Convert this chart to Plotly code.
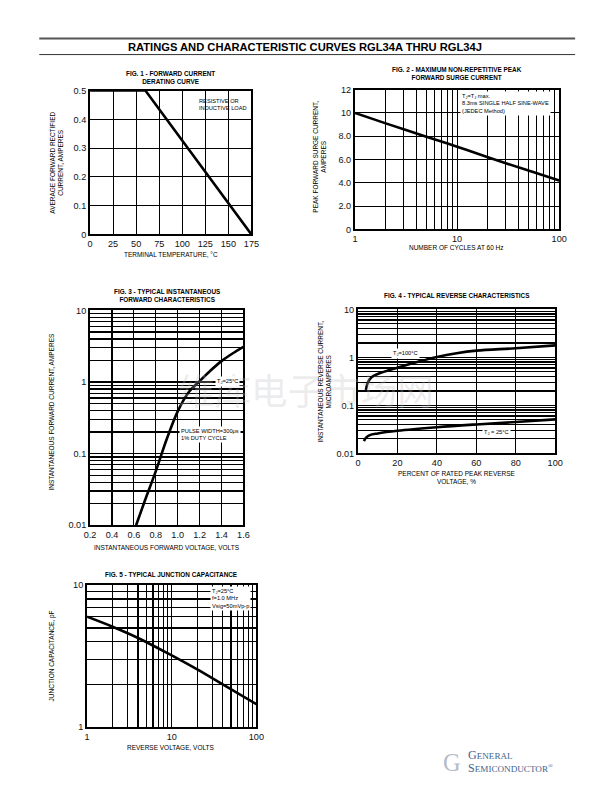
import plotly.graph_objects as go

# ---------------- data ----------------
fig1_temp = [0, 60, 175]
fig1_current = [0.5, 0.5, 0.0]

fig2_cycles = [1, 2, 5, 10, 20, 50, 100]
fig2_surge = [10.0, 9.1, 7.95, 7.1, 6.2, 5.05, 4.2]

fig3_volts = [0.62, 0.7, 0.8, 0.9, 1.0, 1.1, 1.2, 1.3, 1.4, 1.5, 1.6]
fig3_amps = [0.01, 0.022, 0.057, 0.16, 0.39, 0.72, 1.03, 1.45, 1.96, 2.5, 3.1]

fig4_pct100 = [4, 5, 7, 10, 20, 30, 40, 50, 60, 80, 100]
fig4_i100 = [0.21, 0.30, 0.39, 0.45, 0.61, 0.80, 1.02, 1.22, 1.38, 1.55, 1.78]
fig4_pct25 = [3, 4, 6, 10, 20, 40, 60, 80, 100]
fig4_i25 = [0.018, 0.021, 0.024, 0.026, 0.0295, 0.035, 0.040, 0.045, 0.051]

fig5_volts = [1, 2, 4, 10, 20, 40, 100]
fig5_cap = [6.0, 5.1, 4.25, 3.2, 2.55, 2.0, 1.45]

fig1_xticks = [0, 25, 50, 75, 100, 125, 150, 175]
fig1_yticks = [0, 0.1, 0.2, 0.3, 0.4, 0.5]
fig2_yticks = [0, 2, 4, 6, 8, 10, 12]
fig2_ylabels = ["0", "2.0", "4.0", "6.0", "8.0", "10", "12"]
fig3_xticks = [0.2, 0.4, 0.6, 0.8, 1.0, 1.2, 1.4, 1.6]
fig3_xlabels = ["0.2", "0.4", "0.6", "0.8", "1.0", "1.2", "1.4", "1.6"]
fig4_xticks = [0, 20, 40, 60, 80, 100]
log_digits = [2, 3, 4, 5, 6, 7, 8, 9]

W, H = 612, 792

# compensation for the slight rescale seen in the photographed page
AX, BX = 0.981, 4.6
AY, BY = 0.988, 3.4
FS = 1.0 / 0.985


def px(x):
    return ((x - BX) / AX) / W


def py(y):
    return 1 - ((y - BY) / AY) / H


def minor_vals(decades):
    return [d * k for d in decades for k in log_digits]


FONT = "Liberation Sans, Arial, sans-serif"
TICKFONT = dict(family=FONT, size=9 * FS, color="#111")
LINE = dict(color="black", width=2.6)
GRIDW = 1.2

fig = go.Figure()

fig.add_trace(go.Scatter(x=fig1_temp, y=fig1_current, mode="lines", line=LINE,
                         xaxis="x", yaxis="y", showlegend=False))
fig.add_trace(go.Scatter(x=fig2_cycles, y=fig2_surge, mode="lines",
                         line=dict(LINE, shape="spline"),
                         xaxis="x2", yaxis="y2", showlegend=False))
fig.add_trace(go.Scatter(x=fig3_volts, y=fig3_amps, mode="lines",
                         line=dict(LINE, shape="spline"),
                         xaxis="x3", yaxis="y3", showlegend=False))
fig.add_trace(go.Scatter(x=fig4_pct100, y=fig4_i100, mode="lines",
                         line=dict(LINE, shape="spline"),
                         xaxis="x4", yaxis="y4", showlegend=False))
fig.add_trace(go.Scatter(x=fig4_pct25, y=fig4_i25, mode="lines",
                         line=dict(LINE, shape="spline"),
                         xaxis="x4", yaxis="y4", showlegend=False))
fig.add_trace(go.Scatter(x=fig5_volts, y=fig5_cap, mode="lines",
                         line=dict(LINE, shape="spline"),
                         xaxis="x5", yaxis="y5", showlegend=False))


def ax(domain, anchor, **kw):
    base = dict(domain=domain, anchor=anchor, showline=True, mirror=True,
                linecolor="black", linewidth=2, showgrid=True, gridcolor="black",
                gridwidth=GRIDW, zeroline=False, ticks="", tickfont=TICKFONT,
                fixedrange=True)
    base.update(kw)
    return base


def logminor(decades):
    return dict(tickmode="array", tickvals=minor_vals(decades), showgrid=True,
                gridcolor="black", gridwidth=GRIDW, ticks="")


layout_axes = dict(
    xaxis=ax([px(89), px(251)], "y", range=[0, 175], tickmode="array",
             tickvals=fig1_xticks),
    yaxis=ax([py(233), py(89)], "x", range=[0, 0.5], tickmode="array",
             tickvals=fig1_yticks, ticktext=["0", "0.1", "0.2", "0.3", "0.4", "0.5"]),
    xaxis2=ax([px(355), px(560)], "y2", type="log", range=[0, 2], tickmode="array",
              tickvals=[1, 10, 100], minor=logminor([1, 10])),
    yaxis2=ax([py(228), py(88)], "x2", range=[0, 12], tickmode="array",
              tickvals=fig2_yticks, ticktext=fig2_ylabels),
    xaxis3=ax([px(89), px(243)], "y3", range=[0.2, 1.6], tickmode="array",
              tickvals=fig3_xticks, ticktext=fig3_xlabels),
    yaxis3=ax([py(524), py(309)], "x3", type="log", range=[-2, 1], tickmode="array",
              tickvals=[0.01, 0.1, 1, 10], ticktext=["0.01", "0.1", "1", "10"],
              minor=logminor([0.01, 0.1, 1])),
    xaxis4=ax([px(358), px(556)], "y4", range=[0, 100], tickmode="array",
              tickvals=fig4_xticks),
    yaxis4=ax([py(452), py(308)], "x4", type="log", range=[-2, 1], tickmode="array",
              tickvals=[0.01, 0.1, 1, 10], ticktext=["0.01", "0.1", "1", "10"],
              minor=logminor([0.01, 0.1, 1])),
    xaxis5=ax([px(86), px(256)], "y5", type="log", range=[0, 2], tickmode="array",
              tickvals=[1, 10, 100], minor=logminor([1, 10])),
    yaxis5=ax([py(726), py(584)], "x5", type="log", range=[0, 1], tickmode="array",
              tickvals=[1, 10], minor=logminor([1])),
)

annotations = []


def txt(x, y, text, size=6.4, bold=False, angle=0, xanchor="center",
        align="center", bg=None, family=FONT, color="black", yanchor="middle"):
    a = dict(x=px(x), y=py(y), xref="paper", yref="paper", text=text,
             showarrow=False, font=dict(family=family, size=size * FS, color=color),
             textangle=angle, xanchor=xanchor, yanchor=yanchor, align=align)
    if bold:
        a["text"] = "<b>" + text + "</b>"
    if bg:
        a["bgcolor"] = bg
        a["borderpad"] = 1
    annotations.append(a)


# watermark (drawn first, underneath other texts)
txt(306, 388, "维库电子市场网", size=36, family="Noto Sans CJK SC",
    color="rgba(190,190,190,0.28)")

# page header
txt(305, 45.5, "RATINGS AND CHARACTERISTIC CURVES RGL34A THRU RGL34J", size=11, bold=True)

# Fig 1
txt(170, 76, "FIG. 1 - FORWARD CURRENT<br>DERATING CURVE", size=6.3, bold=True)
txt(170, 253, "TERMINAL TEMPERATURE, °C", size=6.4)
txt(55, 161, "AVERAGE FORWARD RECTIFIED<br>CURRENT, AMPERES", size=6.4, angle=-90)
txt(196, 103, "RESISTIVE OR<br>INDUCTIVE LOAD", size=5.6, xanchor="left", align="left")

# Fig 2
txt(457, 72, "FIG. 2 - MAXIMUM NON-REPETITIVE PEAK<br>FORWARD SURGE CURRENT", size=6.3, bold=True)
txt(457, 246, "NUMBER OF CYCLES AT 60 Hz", size=6.4)
txt(319, 155, "PEAK FORWARD SURGE CURRENT,<br>AMPERES", size=6.4, angle=-90)
txt(460, 102, "T<sub>J</sub>=T<sub>J</sub> max.<br>8.3ms SINGLE HALF SINE-WAVE<br>(JEDEC Method)",
    size=5.6, xanchor="left", align="left", bg="white")

# Fig 3
txt(166, 294, "FIG. 3 - TYPICAL INSTANTANEOUS<br>FORWARD CHARACTERISTICS", size=6.3, bold=True)
txt(166, 546, "INSTANTANEOUS FORWARD VOLTAGE, VOLTS", size=6.4)
txt(50, 410, "INSTANTANEOUS FORWARD CURRENT, AMPERES", size=6.4, angle=-90)
txt(214, 380, "T<sub>J</sub>=25°C", size=5.6, xanchor="left", bg="white")
txt(178, 433, "PULSE WIDTH=300μs<br>1% DUTY CYCLE", size=5.6, xanchor="left",
    align="left", bg="white")

# Fig 4
txt(457, 294, "FIG. 4 - TYPICAL REVERSE CHARACTERISTICS", size=6.3, bold=True)
txt(457, 476, "PERCENT OF RATED PEAK REVERSE<br>VOLTAGE, %", size=6.4)
txt(324, 380, "INSTANTANEOUS REVERSE CURRENT,<br>MICROAMPERES", size=6.4, angle=-90)
txt(391, 352, "T<sub>J</sub>=100°C", size=5.6, xanchor="left", bg="white")
txt(482, 431, "T<sub>J</sub> = 25°C", size=5.6, xanchor="left", bg="white")

# Fig 5
txt(170, 573, "FIG. 5 - TYPICAL JUNCTION CAPACITANCE", size=6.3, bold=True)
txt(170, 746, "REVERSE VOLTAGE, VOLTS", size=6.4)
txt(51, 655, "JUNCTION CAPACITANCE, pF", size=6.4, angle=-90)
txt(209, 597, "T<sub>J</sub>=25°C<br>f=1.0 MHz<br>Vsig=50mVp-p", size=5.6,
    xanchor="left", align="left", bg="white")

# logo
LOGO = "#44648c"
txt(452, 761, "G", size=24, family="Liberation Serif", color="#b4bcc8")
txt(466, 754, "<span style='font-size:12px'>G</span>ENERAL", size=9,
    family="Liberation Serif", color=LOGO, xanchor="left")
txt(466, 767, "<span style='font-size:12px'>S</span>EMICONDUCTOR<sup>®</sup>", size=9,
    family="Liberation Serif", color=LOGO, xanchor="left")

shapes = [
    dict(type="line", xref="paper", yref="paper", x0=px(38), x1=px(576),
         y0=py(37), y1=py(37), line=dict(color="#555", width=2)),
    dict(type="line", xref="paper", yref="paper", x0=px(38), x1=px(576),
         y0=py(53), y1=py(53), line=dict(color="#333", width=1)),
]

fig.update_layout(
    width=W, height=H, margin=dict(l=0, r=0, t=0, b=0),
    paper_bgcolor="white", plot_bgcolor="white",
    annotations=annotations, shapes=shapes, showlegend=False,
    **layout_axes,
)

PAGE_CSS_JS = (
    "var s=document.createElement('style');"
    "s.textContent='html,body{margin:0!important;padding:0!important;overflow:hidden!important;}';"
    "document.head.appendChild(s);"
)

fig.write_html("out.html", config={"displayModeBar": False, "staticPlot": True},
               post_script=PAGE_CSS_JS)
